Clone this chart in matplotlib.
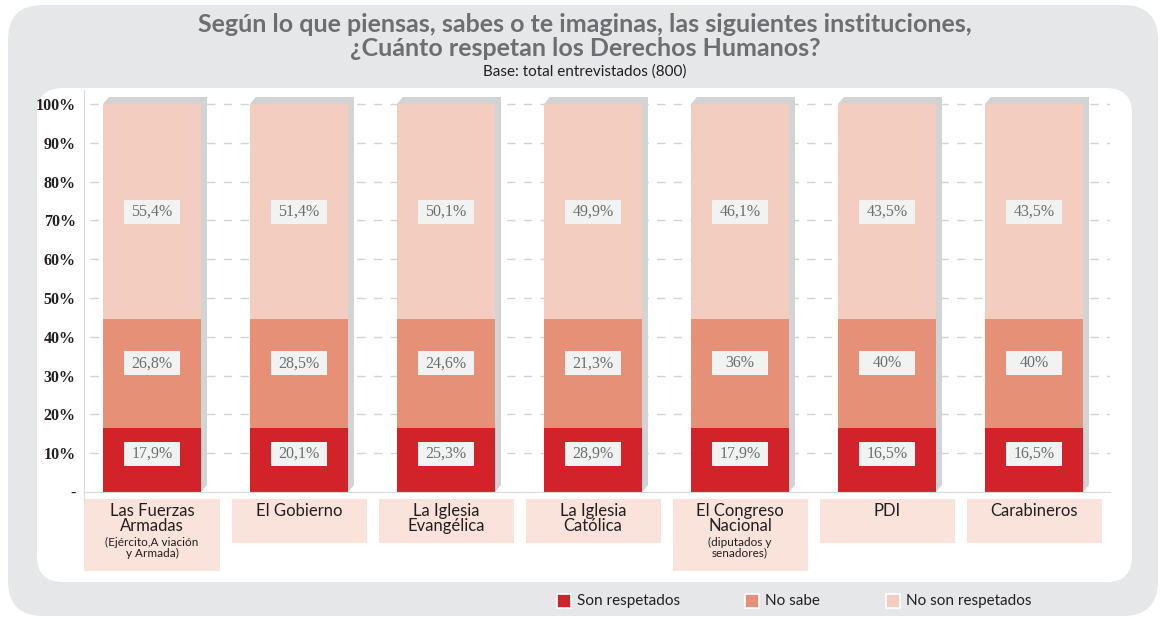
import matplotlib
matplotlib.use("Agg")
import matplotlib.pyplot as plt
from matplotlib.patches import FancyBboxPatch, Rectangle, Polygon
from matplotlib.transforms import blended_transform_factory

categories = ["Las Fuerzas\nArmadas", "El Gobierno", "La Iglesia\nEvangélica", "La Iglesia\nCatólica",
              "El Congreso\nNacional", "PDI", "Carabineros"]
sub_labels = ["(Ejército,A viación\ny Armada)", "", "", "", "(diputados y\nsenadores)", "", ""]

# values printed on the bars
son_respetados = [17.9, 20.1, 25.3, 28.9, 17.9, 16.5, 16.5]
no_sabe = [26.8, 28.5, 24.6, 21.3, 36, 40, 40]
no_son_respetados = [55.4, 51.4, 50.1, 49.9, 46.1, 43.5, 43.5]

# segment heights as drawn in the source picture (same for every bar)
drawn_son = [16.6, 16.6, 16.6, 16.6, 16.6, 16.6, 16.6]
drawn_no_sabe = [28.0, 28.0, 28.0, 28.0, 28.0, 28.0, 28.0]
drawn_no_son = [55.4, 55.4, 55.4, 55.4, 55.4, 55.4, 55.4]

series_names = ["Son respetados", "No sabe", "No son respetados"]
colors = ["#d2232a", "#e59077", "#f3cdbf"]

W, H = 1163, 619
fig = plt.figure(figsize=(W / 100, H / 100), dpi=100)
fig.patch.set_facecolor("white")


def fx(px):
    return px / W


def fy(py):
    return (H - py) / H


# background panels
fig.add_artist(FancyBboxPatch((fx(8), fy(616)), fx(1150), (616 - 5) / H,
                              boxstyle="round,pad=0,rounding_size=0.03",
                              mutation_aspect=W / H, facecolor="#e6e7e8", edgecolor="none",
                              transform=fig.transFigure, zorder=0))
fig.add_artist(FancyBboxPatch((fx(37), fy(582)), fx(1095), (582 - 88) / H,
                              boxstyle="round,pad=0,rounding_size=0.022",
                              mutation_aspect=W / H, facecolor="white", edgecolor="none",
                              transform=fig.transFigure, zorder=0))

# titles
title_font = "Lato"
fig.text(0.503, fy(25), "Según lo que piensas, sabes o te imaginas, las siguientes instituciones,",
         ha="center", va="center", fontsize=18, fontweight="bold", color="#6d6e71", family=title_font)
fig.text(0.503, fy(48), "¿Cuánto respetan los Derechos Humanos?",
         ha="center", va="center", fontsize=18, fontweight="bold", color="#6d6e71", family=title_font)
fig.text(0.503, fy(72), "Base: total entrevistados (800)",
         ha="center", va="center", fontsize=11, color="#231f20", family="Lato")

# axes
bar_px = 147.0
x0_px = 152.0
y_px = 3.88  # pixels per percentage point
ax_left, ax_right, ax_bottom = 84, 1110, 492
xmin = (ax_left - x0_px) / bar_px
xmax = (ax_right - x0_px) / bar_px
ymax = 103.5
ax = fig.add_axes([fx(ax_left), fy(ax_bottom), (ax_right - ax_left) / W, ymax * y_px / H])
ax.set_xlim(xmin, xmax)
ax.set_ylim(0, ymax)
ax.patch.set_alpha(0)

x = list(range(len(categories)))
width = 98 / bar_px
dx = 6 / bar_px
dy = 7 / y_px

# 3d-ish shadow
for i in x:
    L, R = i - width / 2, i + width / 2
    top = drawn_son[i] + drawn_no_sabe[i] + drawn_no_son[i]
    ax.add_patch(Polygon([(L, top), (L + dx, top + dy), (R + dx, top + dy), (R + dx, dy), (R, 0)],
                         closed=True, facecolor="#d1d3d4", edgecolor="none", zorder=2))

ax.bar(x, drawn_son, width, color=colors[0], zorder=3)
ax.bar(x, drawn_no_sabe, width, bottom=drawn_son, color=colors[1], zorder=3)
bottom2 = [a + b for a, b in zip(drawn_son, drawn_no_sabe)]
ax.bar(x, drawn_no_son, width, bottom=bottom2, color=colors[2], zorder=3)


def fmt(v):
    s = f"{v:.1f}".replace(".", ",")
    if s.endswith(",0"):
        s = s[:-2]
    return s + "%"


label_y = [9.9, 33.2, 72.2]
for vals, ly in zip([son_respetados, no_sabe, no_son_respetados], label_y):
    for i, v in zip(x, vals):
        ax.text(i, ly, fmt(v), ha="center", va="center", fontsize=11.5, color="#6d6e71",
                family="Liberation Serif", zorder=5)
        ax.add_patch(Rectangle((i - 28 / bar_px, ly - 12 / y_px), 56 / bar_px, 24 / y_px,
                               facecolor="#f1f2f2", edgecolor="none", zorder=4))

# grid and axis
ax.set_yticks([0, 10, 20, 30, 40, 50, 60, 70, 80, 90, 100])
ax.set_yticklabels(["-", "10%", "20%", "30%", "40%", "50%", "60%", "70%", "80%", "90%", "100%"],
                   family="Liberation Serif", fontweight="bold", fontsize=11.5, color="#231f20")
ax.tick_params(axis="y", length=0, pad=6)
ax.set_xticks([])
for v in range(10, 101, 10):
    ax.axhline(v, xmin=0.006, color="#d1d3d4", linewidth=1, linestyle=(0, (6, 6)), zorder=1)
for s in ["top", "right"]:
    ax.spines[s].set_visible(False)
ax.spines["left"].set_color("#d9dadb")
ax.spines["bottom"].set_color("#d9dadb")
ax.spines["left"].set_bounds(-2, ymax)
ax.spines["bottom"].set_zorder(4)

# category boxes
trans = blended_transform_factory(ax.transData, fig.transFigure)
box_w = 135 / bar_px
for i, (cat, sub) in enumerate(zip(categories, sub_labels)):
    bottom_px = 571 if sub else 543
    ax.add_patch(Rectangle((i - box_w / 2, fy(bottom_px)), box_w, (bottom_px - 499) / H,
                           transform=trans, facecolor="#f9e3db", edgecolor="none", clip_on=False))
    ax.text(i, fy(503), cat, transform=trans, ha="center", va="top", fontsize=12,
            color="#231f20", family="Lato", linespacing=0.95, clip_on=False)
    if sub:
        ax.text(i, fy(537), sub, transform=trans, ha="center", va="top", fontsize=8.5,
                color="#231f20", family="Lato", linespacing=0.95, clip_on=False)

# legend
legend_x = [557, 745, 886]
for px, name, c in zip(legend_x, series_names, colors):
    fig.add_artist(Rectangle((fx(px), fy(608)), fx(14), 14 / H, transform=fig.transFigure,
                             facecolor=c, edgecolor="white", linewidth=1.2))
    fig.text(fx(px + 20), fy(601), name, ha="left", va="center", fontsize=11,
             color="#231f20", family="Lato")

fig.savefig("out.png", dpi=100)
